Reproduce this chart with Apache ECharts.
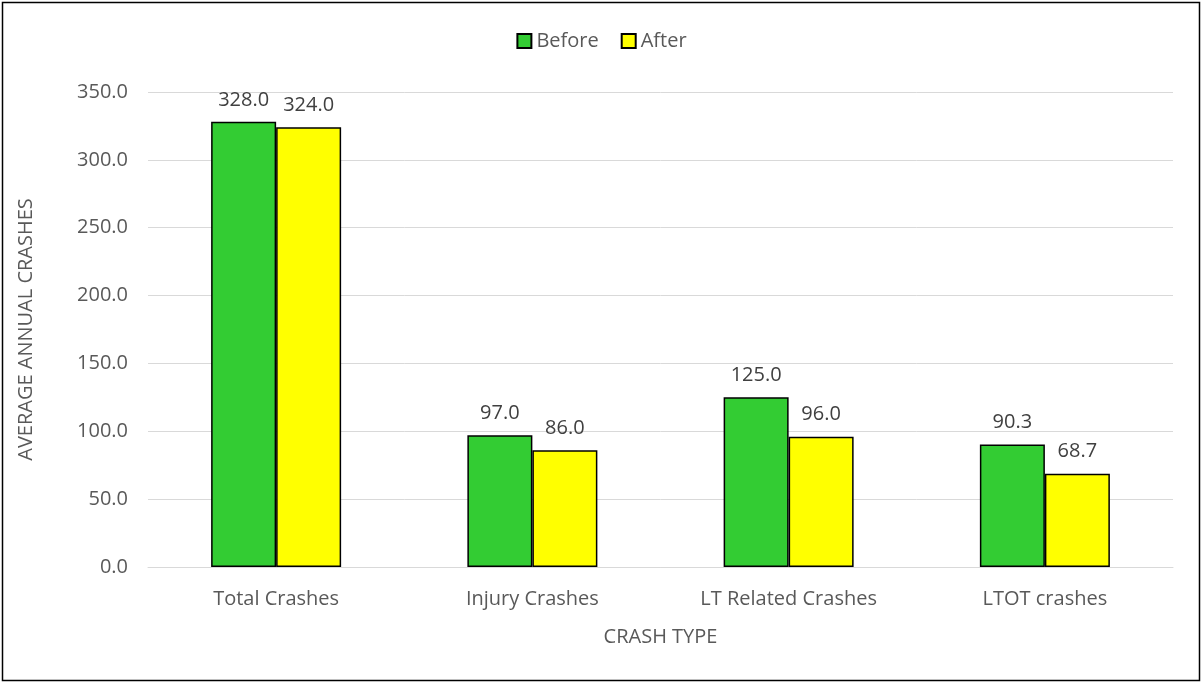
<!DOCTYPE html>
<html>
<head>
    <meta charset="utf-8">
    <title>Crashes</title>
    <script src="https://cdn.jsdelivr.net/npm/echarts@6/dist/echarts.min.js"></script>
    <style>
        body { margin: 0; background: #fff; }
    </style>
</head>
<body>
    <div id="main" style="width: 1203px;height:683px;"></div>
    <script type="text/javascript">
    var categories = ['Total Crashes', 'Injury Crashes', 'LT Related Crashes', 'LTOT crashes'];
    var beforeData = [328.0, 97.0, 125.0, 90.3];
    var afterData = [324.0, 86.0, 96.0, 68.7];

    var font = 'Open Sans';
    var myChart = echarts.init(document.getElementById('main'));

    var option = {
        backgroundColor: '#fff',
        textStyle: { fontFamily: font },
        graphic: [{
            type: 'rect',
            shape: { x: 2.5, y: 2.5, width: 1197, height: 678 },
            style: { fill: 'none', stroke: '#000', lineWidth: 1.5 },
            silent: true
        }],
        legend: {
            top: 26,
            left: 'center',
            icon: 'rect',
            itemWidth: 14,
            itemHeight: 14,
            itemGap: 22,
            textStyle: { fontSize: 20, color: '#595959', fontFamily: font },
            data: ['Before', 'After']
        },
        grid: {
            left: 148,
            right: 30,
            top: 92,
            bottom: 116,
            containLabel: false
        },
        xAxis: {
            type: 'category',
            data: categories,
            name: 'CRASH TYPE',
            nameLocation: 'middle',
            nameGap: 60,
            nameTextStyle: { fontSize: 20, color: '#595959' },
            axisLine: { lineStyle: { color: '#d9d9d9' } },
            axisTick: { show: false },
            axisLabel: { fontSize: 20, color: '#595959', margin: 22 }
        },
        yAxis: {
            type: 'value',
            min: 0,
            max: 350,
            interval: 50,
            name: 'AVERAGE ANNUAL CRASHES',
            nameLocation: 'middle',
            nameGap: 112,
            nameTextStyle: { fontSize: 20, color: '#595959' },
            axisLine: { show: false },
            axisTick: { show: false },
            axisLabel: {
                fontSize: 20, color: '#595959', margin: 20,
                formatter: function (v) { return v.toFixed(1); }
            },
            splitLine: { lineStyle: { color: '#d9d9d9' } }
        },
        series: [{
            name: 'Before',
            type: 'bar',
            data: beforeData,
            barWidth: 65,
            barGap: '0%',
            itemStyle: { color: '#33cc33', borderColor: '#000', borderWidth: 1.5 },
            label: {
                show: true, position: 'top', distance: 12,
                fontSize: 20, color: '#404040',
                formatter: function (p) { return p.value.toFixed(1); }
            }
        }, {
            name: 'After',
            type: 'bar',
            data: afterData,
            barWidth: 65,
            itemStyle: { color: '#ffff00', borderColor: '#000', borderWidth: 1.5 },
            label: {
                show: true, position: 'top', distance: 12,
                fontSize: 20, color: '#404040',
                formatter: function (p) { return p.value.toFixed(1); }
            }
        }]
    };
    myChart.setOption(option);
    </script>
</body>
</html>
